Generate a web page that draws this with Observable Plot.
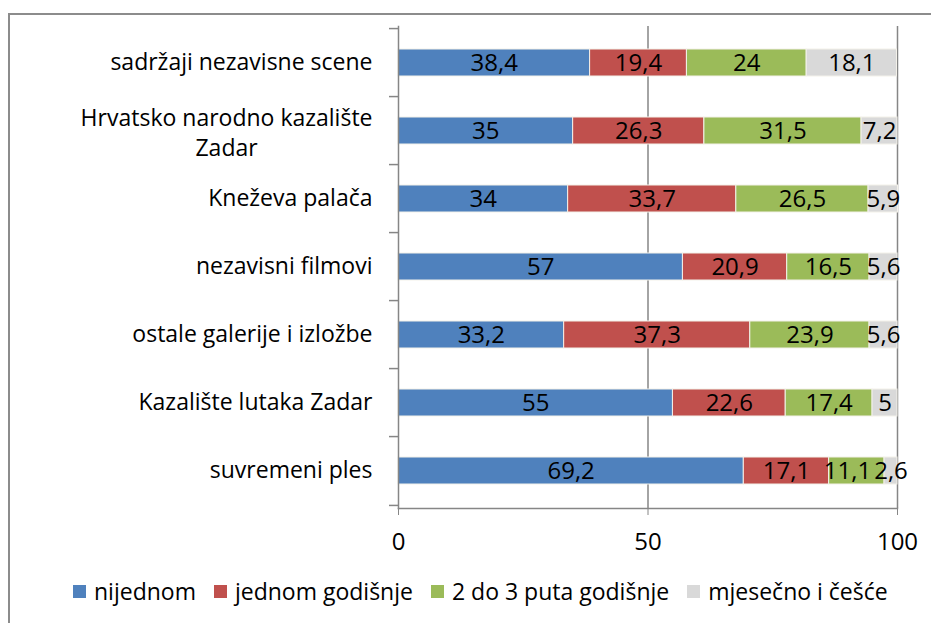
<!DOCTYPE html>
<html><head><meta charset="utf-8">
<script src="https://cdn.jsdelivr.net/npm/d3@7"></script>
<script src="https://cdn.jsdelivr.net/npm/@observablehq/plot@0.6"></script>
<style>
html,body{margin:0;padding:0;background:#fff;overflow:hidden;width:931px;height:623px;}
#chart{position:absolute;left:0;top:0;}
#frame{position:absolute;left:8px;top:13px;width:1000px;height:700px;border:2px solid #8c8c8c;box-sizing:border-box;}
#legend{position:absolute;left:73px;top:575px;display:flex;align-items:center;font-family:'Open Sans';font-size:23px;color:#000;white-space:nowrap;}
.item{display:flex;align-items:center;margin-right:18px;}
.sw{width:13px;height:13px;margin-right:8px;}
</style></head><body>
<div id="chart"></div><div id="frame"></div><div id="legend"></div>
<script>
const categories = ["sadržaji nezavisne scene","Hrvatsko narodno kazalište\nZadar","Kneževa palača","nezavisni filmovi","ostale galerije i izložbe","Kazalište lutaka Zadar","suvremeni ples"];
const series = ["nijednom","jednom godišnje","2 do 3 puta godišnje","mjesečno i češće"];
const nijednom = [38.4,35,34,57,33.2,55,69.2];
const jednomGodisnje = [19.4,26.3,33.7,20.9,37.3,22.6,17.1];
const dvaDoTri = [24,31.5,26.5,16.5,23.9,17.4,11.1];
const mjesecno = [18.1,7.2,5.9,5.6,5.6,5,2.6];
const xTicks = [0,50,100];
const colors = ["#4f81bd","#c0504d","#9bbb59","#d9d9d9"];

const W = 931, H = 560, mL = 398, mR = 34, mT = 26, mB = 52;
const FS = 23, FSB = 24;
const pxPerUnit = (W - mL - mR) / 100;
const step = (H - mT - mB) / categories.length;
const ctx = document.createElement("canvas").getContext("2d");

const rows = [nijednom, jednomGodisnje, dvaDoTri, mjesecno];
const table = [];
categories.forEach((c, i) => {
  let acc = 0;
  series.forEach((s, j) => {
    const v = rows[j][i];
    table.push({category: c, series: s, value: v, x1: acc, x2: acc + v, mid: acc + v / 2, label: String(v).replace(".", ",")});
    acc += v;
  });
});
// shift overlapping labels leftwards
ctx.font = FSB + "px 'Open Sans'";
categories.forEach(c => {
  const segs = table.filter(d => d.category === c);
  const gap = 3 / pxPerUnit;
  for (let k = segs.length - 2; k >= 0; k--) {
    const next = segs[k + 1];
    const nextLeft = next.mid - ctx.measureText(next.label).width / 2 / pxPerUnit;
    const w = ctx.measureText(segs[k].label).width / pxPerUnit;
    if (segs[k].mid + w / 2 + gap > nextLeft) segs[k].mid = nextLeft - gap - w / 2;
  }
});

const axisColor = "#868686";
ctx.font = FS + "px 'Open Sans'";
const catLabels = categories.map(c => {
  const lines = c.split("\n");
  if (lines.length === 1) return Plot.text([c], {x: 0, y: d => d, text: d => d, textAnchor: "end", dx: -26, fontSize: FS, fill: "black"});
  const w = d3.max(lines, l => ctx.measureText(l).width);
  return Plot.text([c], {x: 0, y: d => d, text: d => d, textAnchor: "middle", dx: -26 - w / 2, lineHeight: 1.3, fontSize: FS, fill: "black"});
});

const plot = Plot.plot({
  width: W, height: H,
  marginLeft: mL, marginRight: mR, marginTop: mT, marginBottom: mB,
  style: {fontFamily: "'Open Sans'", fontSize: FS + "px", background: "transparent", overflow: "visible"},
  x: {domain: [0, 100]},
  y: {domain: categories, axis: null, paddingInner: 0.6, paddingOuter: 0.3},
  color: {domain: series, range: colors},
  marks: [
    Plot.ruleX(xTicks.slice(1), {stroke: axisColor, strokeWidth: 1.5}),
    Plot.barX(table, {x1: "x1", x2: "x2", y: "category", fill: "series", stroke: "#f3f1ea", strokeWidth: 1}),
    Plot.text(table, {x: "mid", y: "category", text: "label", fill: "black", fontSize: FSB}),
    Plot.frame({anchor: "left", stroke: axisColor, strokeWidth: 1.5}),
    Plot.frame({anchor: "bottom", stroke: axisColor, strokeWidth: 1.5}),
    Plot.ruleY(categories, {y: d => d, x1: -9 / pxPerUnit, x2: 0, dy: -step / 2, stroke: axisColor, strokeWidth: 1.5}),
    Plot.ruleY(categories.slice(-1), {y: d => d, x1: -9 / pxPerUnit, x2: 0, dy: step / 2, stroke: axisColor, strokeWidth: 1.5}),
    Plot.axisX({ticks: xTicks, tickSize: 7, tickPadding: 17, fontSize: FSB, stroke: axisColor, fill: "black", label: null, tickFormat: d => String(d)}),
    ...catLabels
  ]
});
document.getElementById("chart").appendChild(plot);

const legend = document.getElementById("legend");
series.forEach((s, i) => {
  const item = document.createElement("div");
  item.className = "item";
  const sw = document.createElement("div");
  sw.className = "sw";
  sw.style.background = colors[i];
  const t = document.createElement("span");
  t.textContent = s;
  item.appendChild(sw); item.appendChild(t);
  legend.appendChild(item);
});
</script>
</body></html>
